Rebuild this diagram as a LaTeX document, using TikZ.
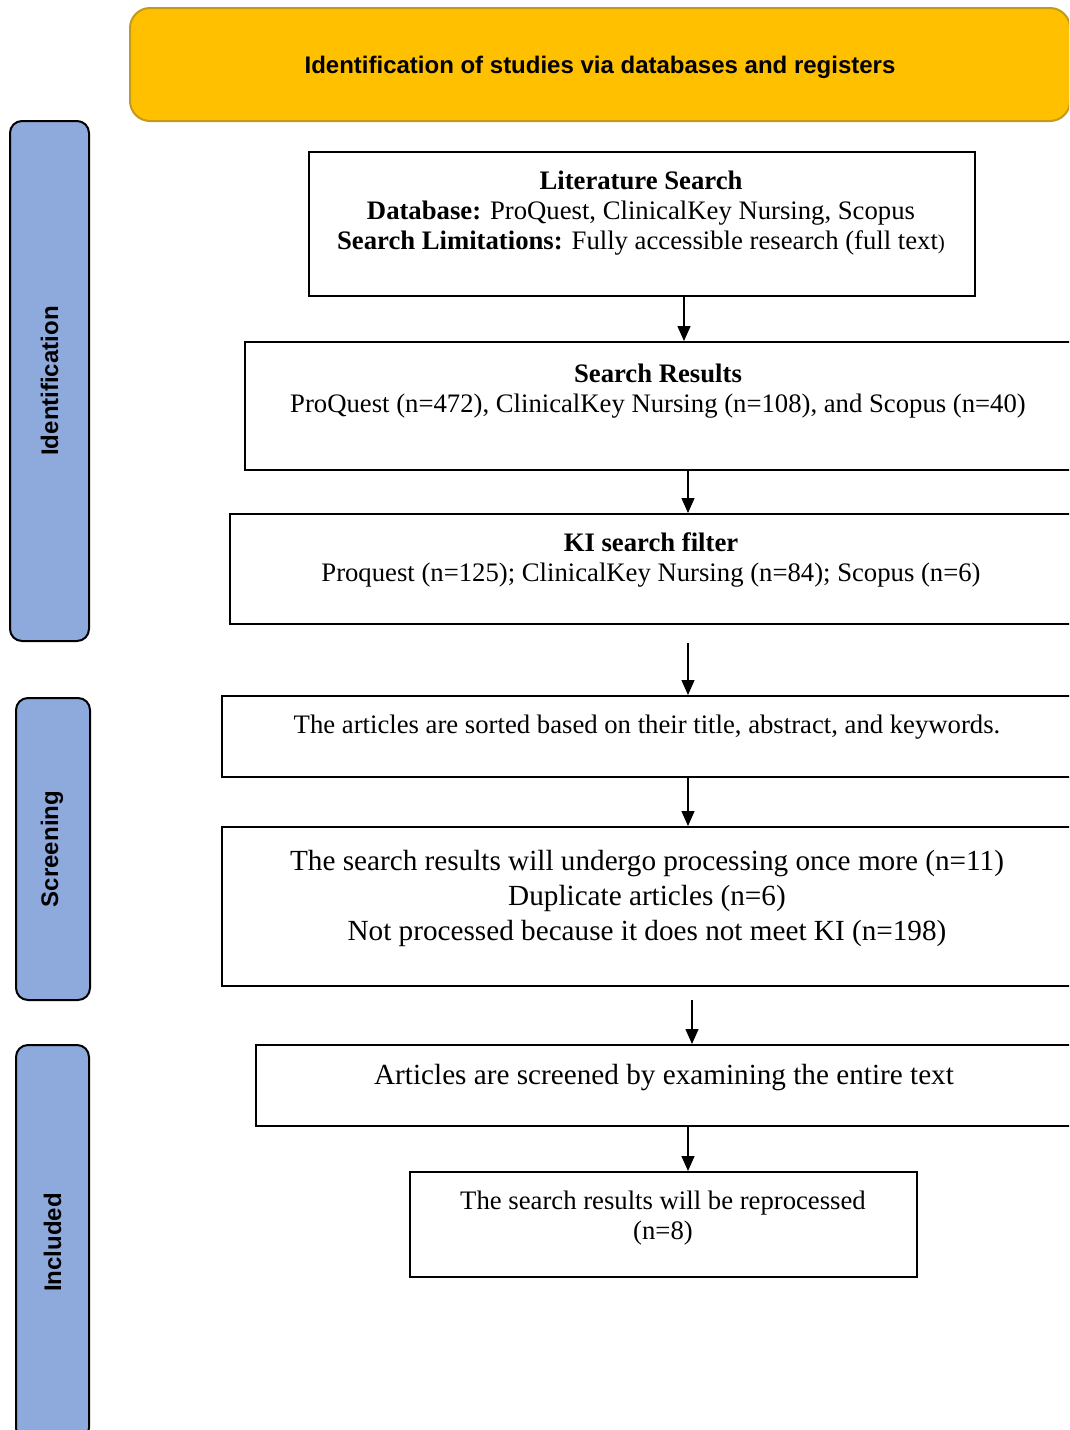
\documentclass[tikz,border=0pt]{standalone}
\usepackage{fontspec}
\setmainfont{Liberation Serif}
\setsansfont{Liberation Sans}
\usetikzlibrary{arrows.meta}
\definecolor{bannergold}{HTML}{FFC000}
\definecolor{bannerline}{HTML}{C49A1C}
\definecolor{stageblue}{HTML}{8EA9DB}
\begin{document}
\begin{tikzpicture}[x=1pt,y=-1pt]
\tikzstyle{every node}+=[inner sep=0pt]
\tikzstyle{stage}=[draw=black, line width=2pt, fill=stageblue, rounded corners=12pt, font=\sffamily\bfseries\fontsize{24}{28}\selectfont]
\tikzstyle{box}=[draw=black, line width=2pt, rectangle]
\tikzstyle{txt}=[align=center, font=\fontsize{26.7}{30}\selectfont]
\tikzstyle{txtb}=[align=center, font=\fontsize{29.2}{35}\selectfont]
\tikzstyle{arr}=[line width=1.4pt, -{Triangle[length=15pt,width=13pt]}]
\clip (0,0) rectangle (1069,1430);
% banner and stages
\node [draw=bannerline, line width=2pt, fill=bannergold, rounded corners=20pt, minimum width=940, minimum height=113] (banner) at (600,64.5) {};
\node [font=\sffamily\bfseries\fontsize{24}{28}\selectfont] (bannertext) at (600,67) {Identification of studies via databases and registers};
\node [stage, rotate=90, minimum width=520, minimum height=79] (ident) at (49.5,381) {Identification};
\node [stage, rotate=90, minimum width=302, minimum height=74] (screen) at (53,849) {\hspace*{0pt}\raisebox{7pt}{Screening}};
\node [stage, rotate=90, minimum width=395, minimum height=73] (incl) at (52.5,1242.5) {Included};
% boxes
\node [box, minimum width=666, minimum height=144] (lit) at (642,224) {};
\node [box, minimum width=855, minimum height=128] (res) at (672.5,406) {};
\node [box, minimum width=870, minimum height=110] (ki) at (665,569) {};
\node [box, minimum width=878, minimum height=81] (sort) at (661,736.5) {};
\node [box, minimum width=878, minimum height=159] (dup) at (661,906.5) {};
\node [box, minimum width=844, minimum height=81] (full) at (678,1085.5) {};
\node [box, minimum width=507, minimum height=105] (repro) at (663.5,1224.5) {};
% texts
\node [txt] (littext) at (641,213) {\textbf{Literature Search}\\\textbf{Database:} ProQuest, ClinicalKey Nursing, Scopus\\\textbf{Search Limitations:} Fully accessible research (full text{\fontsize{21}{30}\selectfont)}};
\node [txt] (restext) at (658,391) {\textbf{Search Results}\\ProQuest (n=472), ClinicalKey Nursing (n=108), and Scopus (n=40)};
\node [txt] (kitext) at (651,560) {\textbf{KI search filter}\\Proquest (n=125); ClinicalKey Nursing (n=84); Scopus (n=6)};
\node [txt] (sorttext) at (647,727) {The articles are sorted based on their title, abstract, and keywords.};
\node [txtb] (duptext) at (647,898) {The search results will undergo processing once more (n=11)\\Duplicate articles (n=6)\\Not processed because it does not meet KI (n=198)};
\node [txtb] (fulltext) at (664,1078) {Articles are screened by examining the entire text};
\node [txt] (reprotext) at (663,1218) {The search results will be reprocessed\\(n=8)};
% arrows
\coordinate (kiout) at (688,643);
\coordinate (dupout) at (692,1000);
\draw [arr] ([xshift=42pt]lit.south) -- ([xshift=11.5pt]res.north);
\draw [arr] ([xshift=15.5pt]res.south) -- ([xshift=23pt]ki.north);
\draw [arr] (kiout) -- ([xshift=27pt]sort.north);
\draw [arr] ([xshift=27pt]sort.south) -- ([xshift=27pt]dup.north);
\draw [arr] (dupout) -- ([xshift=14pt]full.north);
\draw [arr] ([xshift=10pt]full.south) -- ([xshift=24.5pt]repro.north);
\end{tikzpicture}
\end{document}
